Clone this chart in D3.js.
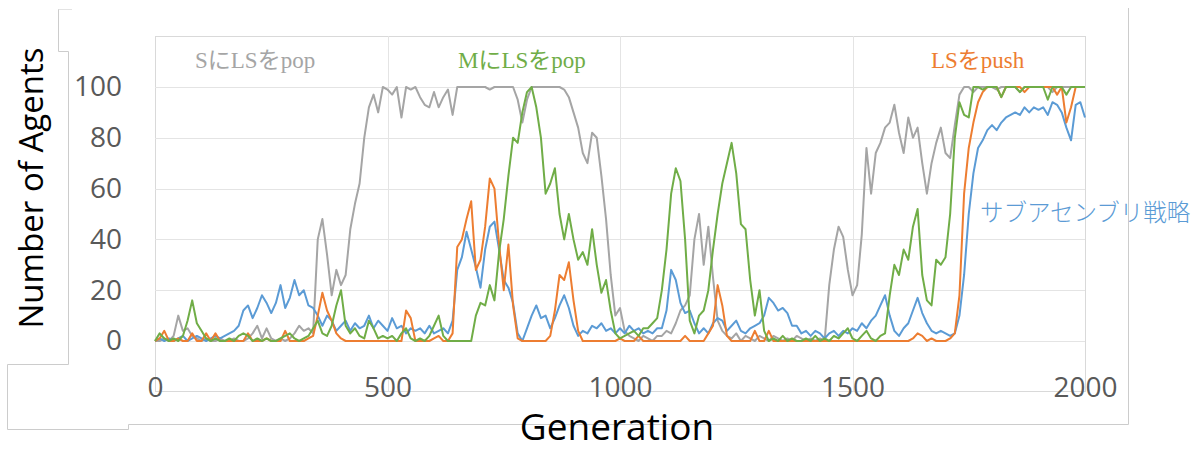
<!DOCTYPE html>
<html>
<head>
<meta charset="utf-8">
<script src="https://cdn.jsdelivr.net/npm/d3@7"></script>
<style>
  body { margin: 0; background: #fff; }
  svg { display: block; }
</style>
</head>
<body>
<svg id="chart"></svg>
<script>
// generation index of each sample (every 10 generations)
const generations = d3.range(0, 2001, 10);

// SにLSをpop
const sPop = [
  0,0,1,0,2,10,4,5,2,1,
  0,1,0,0,1,0,0,1,0,0,
  1,3,6,1,5,1,0,1,0,1,
  3,6,4,5,3,40,48,34,18,28,
  22,26,44,54,62,80,92,97,90,100,
  99,97,100,88,100,99,100,96,93,92,
  98,92,96,99,89,100,100,100,100,100,
  100,100,99,100,100,100,100,100,95,86,
  95,100,100,100,100,100,100,100,99,96,
  90,84,74,70,82,80,65,48,26,10,
  13,4,2,1,0,2,1,0,2,2,
  4,3,7,12,14,18,40,50,30,45,
  25,8,4,2,1,3,0,2,1,0,
  2,1,0,2,1,0,1,0,2,1,
  0,1,0,1,0,22,36,45,41,28,
  18,22,42,76,58,74,78,84,86,93,
  82,74,88,80,84,70,58,70,78,84,
  74,72,85,97,100,100,98,100,100,100,
  100,99,100,100,100,100,98,100,100,100,
  100,100,100,98,100,100,100,100,100,100,
  100
];

// MにLSをpop
const mPop = [
  0,3,1,0,1,0,2,8,16,7,
  4,1,0,1,0,0,1,0,2,3,
  2,0,1,0,1,0,0,1,2,3,
  1,0,1,2,5,8,3,2,6,14,
  20,6,3,5,2,1,8,5,1,2,
  1,2,0,3,5,1,0,1,0,2,
  6,10,2,0,0,0,0,0,0,10,
  15,14,22,16,35,48,65,80,78,90,
  98,100,92,80,58,62,68,50,40,50,
  40,32,35,30,44,30,19,24,12,3,
  1,2,3,4,2,5,5,7,9,20,
  36,58,68,63,40,8,3,10,12,20,
  36,50,62,70,78,66,46,44,24,10,
  20,4,0,1,0,2,0,1,0,0,
  1,0,2,0,1,0,2,1,3,5,
  1,0,2,4,1,0,2,3,18,30,
  26,36,32,45,52,26,16,14,32,30,
  33,50,80,94,89,88,100,100,99,100,
  100,100,96,100,100,100,98,100,100,100,
  100,100,95,100,100,100,97,100,100,100,
  100
];

// LSをpush
const lsPush = [
  0,1,4,0,0,1,0,0,3,0,
  0,3,0,3,0,0,0,0,0,0,
  3,0,0,0,1,0,0,0,4,0,
  0,0,0,1,2,10,19,12,8,3,
  1,0,0,0,0,0,0,0,0,0,
  0,0,0,0,12,9,0,0,0,0,
  1,2,0,0,3,37,40,48,55,28,
  32,45,64,60,38,20,38,14,1,0,
  0,0,0,0,0,2,12,26,24,31,
  16,4,0,0,0,0,0,0,0,0,
  1,0,0,0,2,0,0,0,0,0,
  0,0,0,0,2,0,0,0,0,3,
  6,22,14,2,0,0,0,0,0,4,
  0,0,4,0,0,0,0,0,0,0,
  0,0,0,0,0,0,0,0,0,0,
  0,0,0,0,0,0,0,0,0,0,
  0,0,0,1,3,2,0,1,0,0,
  0,1,3,18,58,76,86,94,98,100,
  100,100,96,100,100,100,100,98,100,100,
  100,100,100,100,97,100,86,92,100,100,
  100
];

// サブアセンブリ戦略
const subAssembly = [
  0,1,0,1,0,1,2,0,1,2,
  1,0,1,2,1,2,3,4,6,12,
  14,9,13,18,15,11,15,22,13,17,
  24,18,20,14,13,10,6,10,8,4,
  6,8,4,7,5,6,10,5,8,6,
  4,9,5,6,3,5,4,5,3,6,
  3,4,5,3,8,28,33,43,36,29,
  21,36,45,47,36,24,21,15,3,0,
  5,10,14,9,10,5,9,14,18,13,
  6,2,4,3,6,5,7,4,5,3,
  5,3,6,4,5,3,4,3,5,5,
  12,28,24,15,11,12,7,3,5,3,
  7,9,8,4,6,8,4,3,5,6,
  7,10,17,15,12,13,11,6,6,3,
  4,2,4,3,1,3,4,2,4,3,
  5,4,7,5,8,10,14,18,10,4,
  2,5,7,12,17,11,7,4,3,4,
  3,2,3,10,26,50,66,76,79,83,
  85,83,86,88,89,90,89,92,90,92,
  91,92,89,94,93,90,84,79,93,94,
  88
];

const yTicks = [0, 20, 40, 60, 80, 100];
const xTicks = [0, 500, 1000, 1500, 2000];

const series = [
  { name: "SにLSをpop", values: sPop, color: "#A5A5A5" },
  { name: "サブアセンブリ戦略", values: subAssembly, color: "#5B9BD5" },
  { name: "LSをpush", values: lsPush, color: "#ED7D31" },
  { name: "MにLSをpop", values: mPop, color: "#70AD47" }
];

const W = 1199, H = 450;
const box = { left: 155, top: 36, right: 1085, bottom: 391 };

const svg = d3.select("#chart").attr("width", W).attr("height", H);
svg.append("rect").attr("width", W).attr("height", H).attr("fill", "#fff");

const x = d3.scaleLinear().domain([0, 2000]).range([box.left, box.right]);
const y = d3.scaleLinear().domain([0, 100]).range([341, 87]);

// outer frame pieces
const frame = svg.append("g").attr("fill", "none").attr("stroke", "#CCCCCC").attr("stroke-width", 1);
frame.append("path").attr("d", "M58.5,9 V51.5 H68.5 V364.5 H7.5 V429.5 H128.5 V424.5 H1128.5 V8");
frame.append("path").attr("d", "M58.5,9.5 H72").attr("stroke", "#E3E3E3");

// chart area border
svg.append("rect")
  .attr("x", box.left + 0.5).attr("y", box.top + 0.5)
  .attr("width", box.right - box.left).attr("height", box.bottom - box.top)
  .attr("fill", "none").attr("stroke", "#D9D9D9");

// gridlines
svg.append("g").selectAll("line").data(yTicks).enter().append("line")
  .attr("x1", box.left).attr("x2", box.right)
  .attr("y1", d => Math.round(y(d)) + 0.5).attr("y2", d => Math.round(y(d)) + 0.5)
  .attr("stroke", "#E4E4E4");
svg.append("g").selectAll("line").data(xTicks.slice(1, -1)).enter().append("line")
  .attr("x1", d => Math.round(x(d)) + 0.5).attr("x2", d => Math.round(x(d)) + 0.5)
  .attr("y1", box.top).attr("y2", box.bottom)
  .attr("stroke", "#E4E4E4");

// lines
const line = d3.line().x((d, i) => x(generations[i])).y(d => y(d));
svg.append("g").selectAll("path").data(series).enter().append("path")
  .attr("d", d => line(d.values))
  .attr("fill", "none")
  .attr("stroke", d => d.color)
  .attr("stroke-width", 2)
  .attr("stroke-linejoin", "round");

// axes
const yAxis = svg.append("g")
  .attr("transform", `translate(${box.left},0)`)
  .call(d3.axisLeft(y).tickValues(yTicks).tickSize(0).tickPadding(33).tickFormat(d3.format("d")));
const xAxis = svg.append("g")
  .attr("transform", "translate(0,341)")
  .call(d3.axisBottom(x).tickValues(xTicks).tickSize(0).tickPadding(36).tickFormat(d3.format("d")));
[yAxis, xAxis].forEach(g => {
  g.select(".domain").remove();
  g.selectAll("text")
    .attr("fill", "#595959")
    .style("font-family", "'Open Sans', sans-serif")
    .style("font-size", "28px");
});

// axis titles
svg.append("text")
  .attr("transform", "translate(43,188) rotate(-90)")
  .attr("text-anchor", "middle")
  .style("font-family", "'Open Sans', sans-serif")
  .style("font-size", "33px")
  .attr("fill", "#000")
  .text("Number of Agents");

svg.append("text")
  .attr("x", 617).attr("y", 440)
  .attr("text-anchor", "middle")
  .style("font-family", "'Open Sans', sans-serif")
  .style("font-size", "37px")
  .attr("fill", "#000")
  .text("Generation");

// series labels
const serif = "'Liberation Serif', 'Noto Sans CJK JP', serif";
const labels = [
  { text: "SにLSをpop", x: 195, y: 68, color: "#A5A5A5", font: serif, size: 23 },
  { text: "MにLSをpop", x: 458, y: 68, color: "#70AD47", font: serif, size: 23 },
  { text: "LSをpush", x: 931, y: 68, color: "#ED7D31", font: serif, size: 23 },
  { text: "サブアセンブリ戦略", x: 980, y: 221, color: "#5B9BD5", font: "'Noto Sans CJK JP', sans-serif", size: 23.5 }
];
svg.append("g").selectAll("text").data(labels).enter().append("text")
  .attr("x", d => d.x).attr("y", d => d.y)
  .attr("fill", d => d.color)
  .style("font-family", d => d.font)
  .style("font-size", d => d.size + "px")
  .style("font-weight", d => d.font.startsWith("'Noto") ? 300 : 400)
  .text(d => d.text);
</script>
</body>
</html>
